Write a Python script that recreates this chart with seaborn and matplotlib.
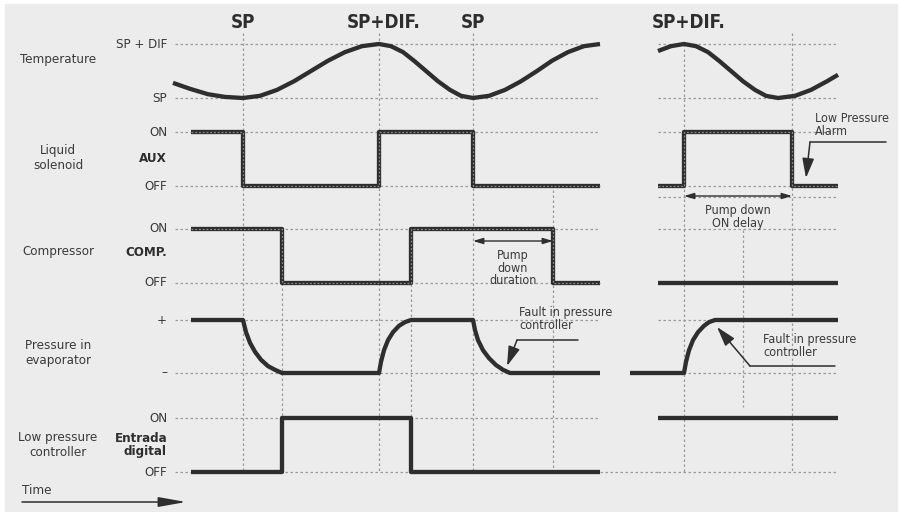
# Timing diagram: liquid solenoid / compressor pump-down sequence
import numpy as np
import pandas as pd
import seaborn as sns
import matplotlib.pyplot as plt
from matplotlib.patches import Rectangle

sns.set_theme(style="white")
plt.rcParams['font.family'] = ['DejaVu Sans']
plt.rcParams['font.stretch'] = 'condensed'

# ---- data (time in diagram units, value 0 = low level, 1 = high level) ----
temp_t_a = [173, 190, 208, 225, 243, 260, 277, 294, 311, 328, 345, 362, 379,
            391, 403, 414, 426, 438, 450, 461, 473, 489, 505, 521, 537, 552,
            568, 584, 600]
temp_v_a = [0.28, 0.17, 0.07, 0.02, 0.0, 0.04, 0.15, 0.31, 0.5, 0.69, 0.85,
            0.96, 1.0, 0.96, 0.85, 0.69, 0.5, 0.31, 0.15, 0.04, 0.0, 0.04,
            0.15, 0.31, 0.5, 0.69, 0.85, 0.96, 1.0]
temp_t_b = [658, 671, 684, 696, 708, 719, 731, 743, 755, 766, 778, 795, 811,
            827, 838]
temp_v_b = [0.87, 0.96, 1.0, 0.96, 0.85, 0.69, 0.5, 0.31, 0.15, 0.04, 0.0,
            0.04, 0.15, 0.31, 0.43]

aux_t_a = [191, 243, 379, 473, 600]
aux_v_a = [1, 0, 1, 0, 0]
aux_t_b = [658, 684, 792, 838]
aux_v_b = [0, 1, 0, 0]

comp_t_a = [191, 282, 411, 553, 600]
comp_v_a = [1, 0, 1, 0, 0]
comp_t_b = [658, 838]
comp_v_b = [0, 0]

press_t_a = [191, 243, 246, 250, 255, 261, 268, 275, 282, 379, 381, 384, 388,
             393, 399, 405, 411, 473, 475, 478, 483, 489, 496, 503, 510, 600]
press_v_a = [1, 1, 0.77, 0.57, 0.40, 0.25, 0.13, 0.06, 0, 0, 0.21, 0.43, 0.62,
             0.77, 0.89, 0.96, 1, 1, 0.81, 0.62, 0.43, 0.28, 0.15, 0.06, 0, 0]
press_t_b = [630, 684, 686, 689, 693, 698, 704, 709, 715, 838]
press_v_b = [0, 0, 0.21, 0.43, 0.62, 0.77, 0.89, 0.96, 1, 1]

lp_t_a = [191, 282, 411, 600]
lp_v_a = [0, 1, 0, 0]
lp_t_b = [658, 838]
lp_v_b = [1, 1]

row_names = ["Temperature", "Liquid\nsolenoid", "Compressor",
             "Pressure in\nevaporator", "Low pressure\ncontroller"]
row_codes = ["", "AUX", "COMP.", "", "Entrada\ndigital"]
level_labels = [("SP + DIF", "SP"), ("ON", "OFF"), ("ON", "OFF"),
                ("+", "\u2013"), ("ON", "OFF")]
event_labels = ["SP", "SP+DIF.", "SP", "SP+DIF."]
event_times = [243, 379, 473, 684]

# ---- layout ----
row_hi = [44, 132, 229, 320, 418]
row_lo = [98, 186, 283, 373, 472]
name_y = [60, 158, 252, 353, 445]
INK = "#2e2e2e"
GRID = "#9a9a9a"
TXT = "#3a3a3a"

fig = plt.figure(figsize=(9, 5.12), dpi=100)
fig.patch.set_facecolor("white")
ax = fig.add_axes([0, 0, 1, 1])
ax.add_patch(Rectangle((5, 4), 892, 507, color="#ebeceb", zorder=0))


def to_y(row, v):
    return row_lo[row] + (row_hi[row] - row_lo[row]) * np.asarray(v, float)


def dotted(xs, ys):
    ax.plot(xs, ys, color=GRID, lw=0.9, ls=(0, (2, 2)), zorder=1)


def signal(t, v, row, step=False, textured=False):
    df = pd.DataFrame({"t": t, "y": to_y(row, v)})
    kw = {"drawstyle": "steps-post"} if step else {}
    sns.lineplot(data=df, x="t", y="y", ax=ax, color=INK, linewidth=3.1,
                 estimator=None, sort=False, legend=False, zorder=3,
                 solid_capstyle="butt", **kw)
    if textured:
        sns.lineplot(data=df, x="t", y="y", ax=ax, color="#8a8a8a",
                     linewidth=0.9, estimator=None, sort=False, legend=False,
                     linestyle=(0, (1.5, 1.5)), zorder=4, **kw)


# reference grid
for r in range(5):
    for y in (row_hi[r], row_lo[r]):
        dotted([175, 600], [y, y])
        dotted([658, 838], [y, y])
dotted([600, 658], [row_lo[4], row_lo[4]])
dotted([658, 838], [197, 197])
for x in (243, 379, 473, 792):
    dotted([x, x], [33, 472])
dotted([684, 684], [44, 472])
dotted([282, 282], [283, 472])
dotted([411, 411], [229, 472])
dotted([553, 553], [190, 472])
dotted([743, 743], [230, 407])

# signals
signal(temp_t_a, temp_v_a, 0)
signal(temp_t_b, temp_v_b, 0)
signal(aux_t_a, aux_v_a, 1, step=True, textured=True)
signal(aux_t_b, aux_v_b, 1, step=True, textured=True)
signal(comp_t_a, comp_v_a, 2, step=True, textured=True)
signal(comp_t_b, comp_v_b, 2, step=True)
signal(press_t_a, press_v_a, 3)
signal(press_t_b, press_v_b, 3)
signal(lp_t_a, lp_v_a, 4, step=True)
signal(lp_t_b, lp_v_b, 4, step=True)

# labels
LBL = 9.5
for r in range(5):
    ax.text(58, name_y[r], row_names[r], ha="center", va="center",
            fontsize=LBL, color=TXT, linespacing=1.15)
    ax.text(167, row_hi[r], level_labels[r][0], ha="right", va="center",
            fontsize=LBL, color=TXT)
    ax.text(167, row_lo[r], level_labels[r][1], ha="right", va="center",
            fontsize=LBL, color=TXT)
    if row_codes[r]:
        ax.text(167, name_y[r], row_codes[r], ha="right",
                va="center", fontsize=LBL, fontweight="bold", color=INK,
                linespacing=1.0)

for lbl, t in zip(event_labels, event_times):
    off = 5 if "+" in lbl else 0
    ax.text(t + off, 23, lbl, ha="center", va="center", fontsize=13.5,
            fontweight="bold", color=INK)

# annotations
ann = dict(fontsize=9, color=TXT, linespacing=1.0)
ax.annotate("", xy=(553, 241), xytext=(473, 241),
            arrowprops=dict(arrowstyle="<|-|>,head_length=0.5,head_width=0.15",
                            color=INK, lw=1, shrinkA=0, shrinkB=0))
ax.text(513, 268, "Pump\ndown\nduration", ha="center", va="center", **ann)

ax.annotate("", xy=(684, 196), xytext=(792, 196),
            arrowprops=dict(arrowstyle="<|-|>,head_length=0.5,head_width=0.15",
                            color=INK, lw=1, shrinkA=0, shrinkB=0))
ax.text(738, 217, "Pump down\nON delay", ha="center", va="center", **ann)

ax.text(519, 319, "Fault in pressure\ncontroller", ha="left", va="center", **ann)
ax.plot([578, 517], [340, 340], color=INK, lw=1.1)
ax.annotate("", xy=(507, 366), xytext=(517, 340),
            arrowprops=dict(arrowstyle="-|>,head_length=1.0,head_width=0.3",
                            color=INK, lw=1.1, shrinkA=0, shrinkB=0))

ax.text(815, 125, "Low Pressure\nAlarm", ha="left", va="center", **ann)
ax.plot([886, 810], [142, 142], color=INK, lw=1.1)
ax.annotate("", xy=(806, 178), xytext=(810, 142),
            arrowprops=dict(arrowstyle="-|>,head_length=1.0,head_width=0.3",
                            color=INK, lw=1.1, shrinkA=0, shrinkB=0))

ax.text(763, 346, "Fault in pressure\ncontroller", ha="left", va="center", **ann)
ax.plot([835, 750], [366, 366], color=INK, lw=1.1)
ax.annotate("", xy=(717, 327), xytext=(750, 366),
            arrowprops=dict(arrowstyle="-|>,head_length=1.0,head_width=0.3",
                            color=INK, lw=1.1, shrinkA=0, shrinkB=0))

# time axis arrow
ax.text(22, 490, "Time", ha="left", va="center", fontsize=LBL, color=TXT)
ax.annotate("", xy=(186, 502), xytext=(22, 502),
            arrowprops=dict(arrowstyle="-|>,head_length=1.4,head_width=0.25",
                            color=INK, lw=1.1, shrinkA=0, shrinkB=0))

ax.set_xlim(0, 900)
ax.set_ylim(512, 0)
ax.axis("off")
fig.savefig("out.png", dpi=100)
